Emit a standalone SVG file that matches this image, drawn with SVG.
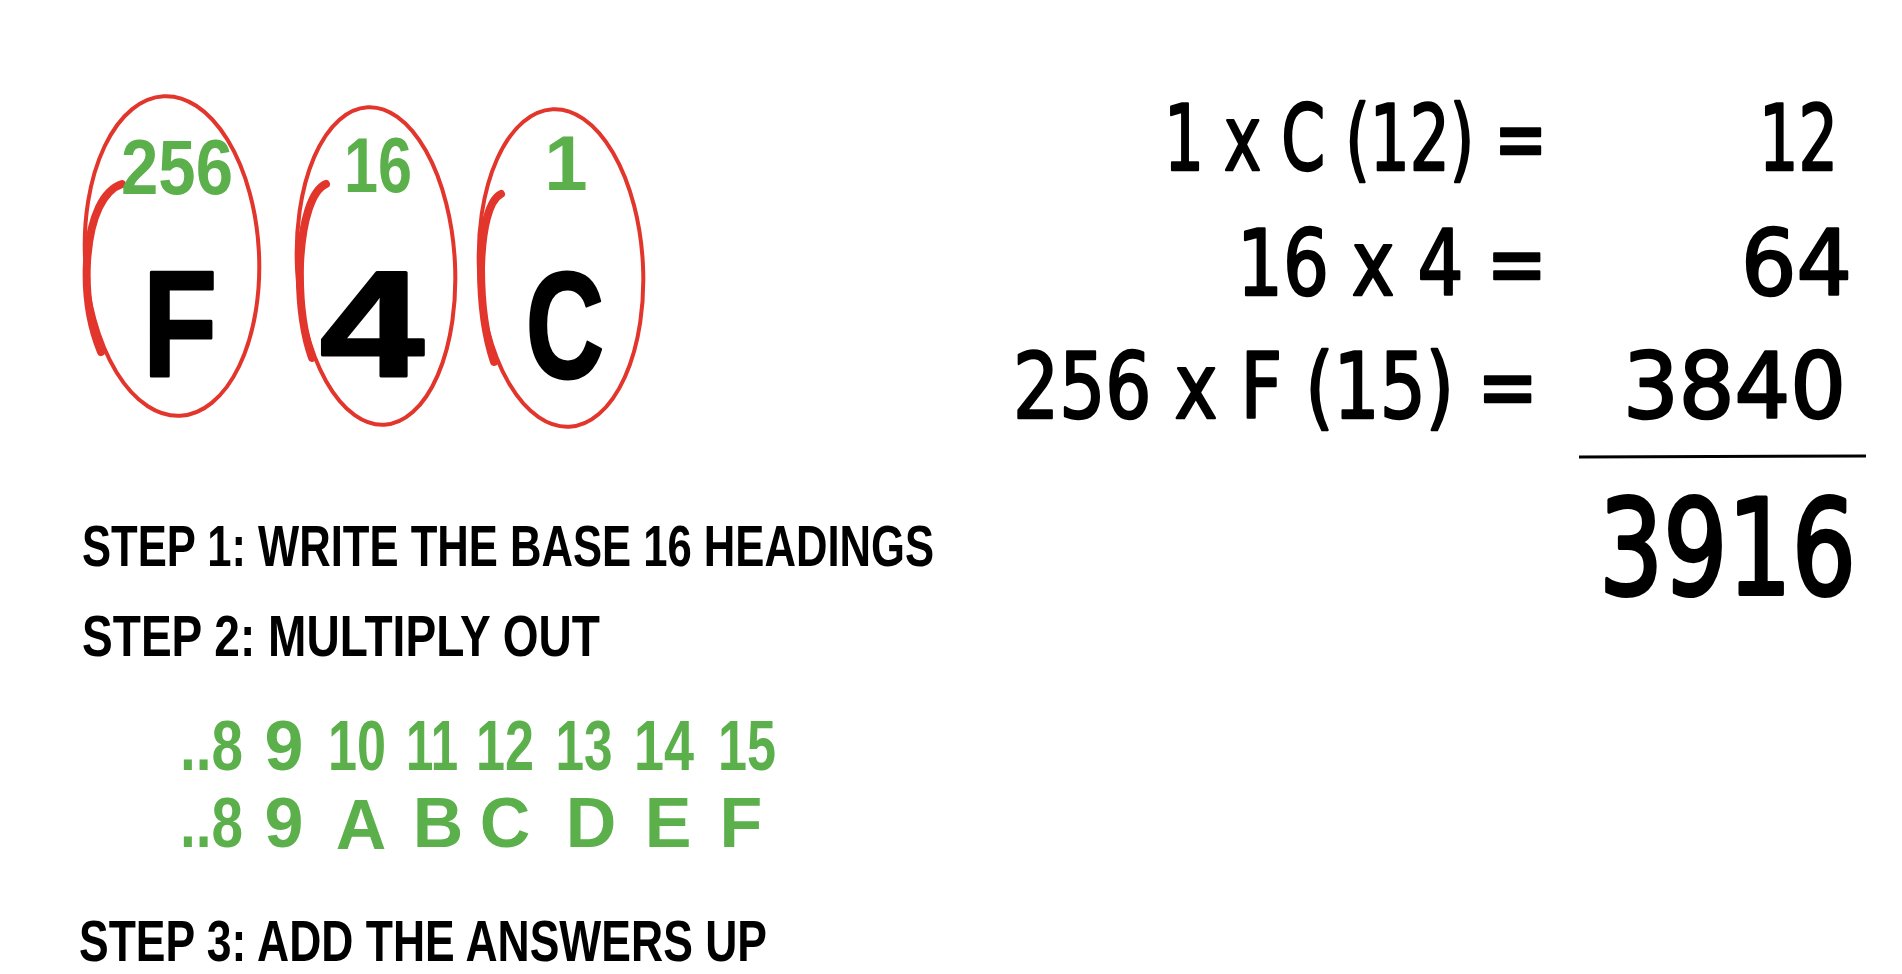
<svg xmlns="http://www.w3.org/2000/svg" width="1902" height="974" viewBox="0 0 1902 974">
<style>
.ring{fill:none;stroke:#e2352b;stroke-width:4;stroke-linecap:round}
.ringk{fill:none;stroke:#e2352b;stroke-width:8;stroke-linecap:round}
.g{font-family:"Liberation Sans",Arial,sans-serif;font-weight:bold;fill:#5bb04b}
.big{font-family:"Liberation Sans",Arial,sans-serif;font-weight:bold;fill:#000;stroke:#000;stroke-width:3;stroke-linejoin:round;font-size:150px;text-anchor:middle}
.eq{font-family:"DejaVu Sans",sans-serif;fill:#000;stroke:#000;stroke-width:2.5;stroke-linejoin:round;font-size:90px}
.tot{font-family:"DejaVu Sans",sans-serif;fill:#000;stroke:#000;stroke-width:4;stroke-linejoin:round;font-size:132px}
.st{font-family:"Liberation Sans",Arial,sans-serif;font-weight:bold;fill:#000;font-size:58px}
</style>
<rect width="1902" height="974" fill="#fff"/>
<g id="node-F">
<ellipse class="ring" cx="172" cy="256" rx="87" ry="160" transform="rotate(-3 172 256)"/>
<path class="ringk" d="M122,184 C104,190 90,215 87,262 C85,300 92,330 101,352"/>
<text class="g" x="177" y="194" font-size="78" text-anchor="middle" textLength="112" lengthAdjust="spacingAndGlyphs">256</text>
<text class="big" x="180" y="376" textLength="74" lengthAdjust="spacingAndGlyphs">F</text>
</g>
<g id="node-4">
<ellipse class="ring" cx="376" cy="266" rx="79" ry="159" transform="rotate(-3 376 266)"/>
<path class="ringk" d="M326,184 C312,190 302,220 300,264 C299,305 304,335 312,358"/>
<text class="g" x="378" y="192" font-size="78" text-anchor="middle" textLength="68" lengthAdjust="spacingAndGlyphs">16</text>
<text class="big" x="372" y="376" textLength="104" lengthAdjust="spacingAndGlyphs">4</text>
</g>
<g id="node-C">
<ellipse class="ring" cx="561" cy="268" rx="82" ry="159" transform="rotate(-3 561 268)"/>
<path class="ringk" d="M501,194 C489,200 482,228 481,268 C481,305 486,338 494,362"/>
<text class="g" x="566" y="190" font-size="78" text-anchor="middle">1</text>
<text class="big" x="565" y="378" textLength="78" lengthAdjust="spacingAndGlyphs">C</text>
</g>
<g id="equations">
<text class="eq" x="1164" y="170" textLength="383" lengthAdjust="spacingAndGlyphs">1 x C (12) =</text>
<text class="eq" x="1759" y="170" textLength="79" lengthAdjust="spacingAndGlyphs">12</text>
<text class="eq" x="1237" y="295" textLength="310" lengthAdjust="spacingAndGlyphs">16 x 4 =</text>
<text class="eq" x="1741" y="295" textLength="111" lengthAdjust="spacingAndGlyphs">64</text>
<text class="eq" x="1013" y="418" textLength="525" lengthAdjust="spacingAndGlyphs">256 x F (15) =</text>
<text class="eq" x="1623" y="418" textLength="223" lengthAdjust="spacingAndGlyphs">3840</text>
<text class="tot" x="1599" y="594" textLength="257" lengthAdjust="spacingAndGlyphs">3916</text>
</g>
<g id="connectors">
<line x1="1579" y1="457" x2="1866" y2="456" stroke="#000" stroke-width="3"/>
</g>
<g id="steps">
<text class="st" x="82" y="566" textLength="852" lengthAdjust="spacingAndGlyphs">STEP 1: WRITE THE BASE 16 HEADINGS</text>
<text class="st" x="82" y="656" textLength="518" lengthAdjust="spacingAndGlyphs">STEP 2: MULTIPLY OUT</text>
<text class="st" x="79" y="961" textLength="688" lengthAdjust="spacingAndGlyphs">STEP 3: ADD THE ANSWERS UP</text>
</g>
<g id="hex-table" class="g" font-size="70" text-anchor="middle">
<text x="180" y="770" text-anchor="start" textLength="63" lengthAdjust="spacingAndGlyphs">..8</text>
<text x="284" y="770">9</text>
<text x="357" y="770" textLength="58" lengthAdjust="spacingAndGlyphs">10</text>
<text x="432" y="770" textLength="52" lengthAdjust="spacingAndGlyphs">11</text>
<text x="505" y="770" textLength="58" lengthAdjust="spacingAndGlyphs">12</text>
<text x="584" y="770" textLength="57" lengthAdjust="spacingAndGlyphs">13</text>
<text x="664" y="770" textLength="60" lengthAdjust="spacingAndGlyphs">14</text>
<text x="747" y="770" textLength="58" lengthAdjust="spacingAndGlyphs">15</text>
<text x="180" y="847" text-anchor="start" textLength="63" lengthAdjust="spacingAndGlyphs">..8</text>
<text x="284" y="847">9</text>
<text x="361" y="849">A</text>
<text x="438" y="847">B</text>
<text x="505" y="847">C</text>
<text x="591" y="847">D</text>
<text x="668" y="847">E</text>
<text x="741" y="847">F</text>
</g>
</svg>
